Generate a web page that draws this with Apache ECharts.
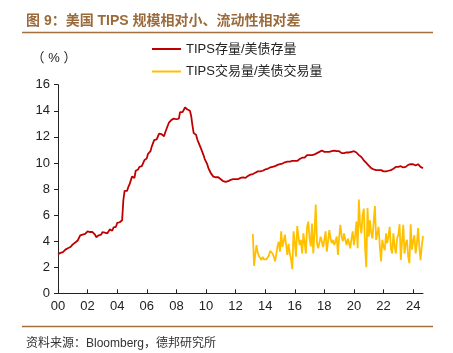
<!DOCTYPE html>
<html>
<head>
<meta charset="utf-8">
<script src="https://cdn.jsdelivr.net/npm/echarts@6/dist/echarts.min.js"></script>
<style>
  html, body { margin: 0; padding: 0; background: #fff; }
  #chart { width: 453px; height: 353px; }
</style>
</head>
<body>
<div id="chart"></div>
<script>
// 月度数据：2000-01 ~ 2024-09
const startYear = 2000
const yTicks = [0, 2, 4, 6, 8, 10, 12, 14, 16]

// TIPS存量/美债存量（%），按年分行
const stockRatio = [
  3.0, 3.05, 3.1, 3.1, 3.15, 3.2, 3.35, 3.45, 3.45, 3.5, 3.55, 3.6,
  3.75, 3.9, 3.9, 3.95, 4.05, 4.15, 4.45, 4.45, 4.5, 4.5, 4.55, 4.6,
  4.75, 4.75, 4.7, 4.75, 4.7, 4.7, 4.5, 4.3, 4.3, 4.45, 4.55, 4.5,
  4.7, 4.65, 4.65, 4.6, 4.6, 4.55, 4.9, 4.85, 4.8, 5.05, 5.0, 5.1,
  5.4, 5.3, 5.45, 5.6, 5.6, 7.15, 7.85, 7.8, 7.85, 8.15, 8.35, 8.4,
  8.95, 8.9, 8.85, 9.4, 9.35, 9.5, 9.7, 9.65, 9.75, 9.75, 10.2, 10.25,
  10.35, 10.7, 10.65, 10.9, 11.25, 11.2, 11.75, 11.7, 11.8, 11.85, 12.25, 12.2,
  12.2, 12.1, 12.05, 12.35, 12.6, 12.6, 13.1, 13.05, 13.3, 13.4, 13.4, 13.35,
  13.35, 13.4, 13.4, 13.9, 13.85, 13.9, 13.95, 14.25, 14.15, 14.1, 14.1, 14.0,
  13.6, 12.9, 12.3, 12.2, 12.15, 11.8, 11.55, 11.45, 11.1, 11.0, 10.6, 10.3,
  10.2, 9.9, 9.6, 9.4, 9.2, 9.05, 8.95, 8.95, 8.9, 8.85, 8.9, 8.8,
  8.75, 8.7, 8.6, 8.55, 8.55, 8.5, 8.6, 8.65, 8.7, 8.7, 8.75, 8.7,
  8.75, 8.8, 8.75, 8.8, 8.85, 8.8, 8.9, 8.75, 8.85, 8.95, 9.0, 9.05,
  9.1, 9.05, 9.15, 9.2, 9.25, 9.3, 9.35, 9.3, 9.35, 9.4, 9.4, 9.45,
  9.5, 9.5, 9.55, 9.6, 9.65, 9.6, 9.7, 9.75, 9.75, 9.8, 9.85, 9.9,
  9.9, 9.95, 9.95, 10.0, 10.05, 10.0, 10.1, 10.15, 10.1, 10.2, 10.15, 10.2,
  10.15, 10.1, 10.15, 10.2, 10.3, 10.35, 10.4, 10.45, 10.4, 10.5, 10.6, 10.55,
  10.6, 10.65, 10.6, 10.7, 10.65, 10.7, 10.75, 10.8, 10.85, 10.9, 10.95, 10.9,
  10.85, 10.9, 10.85, 10.8, 10.85, 10.85, 10.9, 10.9, 10.95, 10.95, 10.9, 10.85,
  10.9, 10.8, 10.75, 10.7, 10.75, 10.8, 10.8, 10.75, 10.8, 10.85, 10.85, 10.9,
  10.9, 10.85, 10.8, 10.7, 10.6, 10.5, 10.45, 10.3, 10.2, 10.1, 10.0, 9.9,
  9.8, 9.65, 9.6, 9.55, 9.5, 9.5, 9.45, 9.5, 9.45, 9.4, 9.45, 9.4,
  9.35, 9.3, 9.35, 9.35, 9.4, 9.35, 9.45, 9.5, 9.55, 9.65, 9.7, 9.65,
  9.7, 9.65, 9.75, 9.7, 9.65, 9.75, 9.7, 9.8, 9.85, 9.8, 9.9, 10.0,
  9.9, 9.85, 9.8, 9.85, 9.9, 9.8, 9.7, 9.65, 9.6
]

// TIPS交易量/美债交易量（%），2013-03 起
const tradeStart = '2013-03'
const tradeRatio = [
  4.55, 2.1, 3.0, 3.7, 3.1, 2.85, 3.0, 2.55, 2.8, 2.6,
  2.45, 2.6, 2.7, 2.9, 3.25, 3.1, 3.05, 2.8, 2.45, 3.0,
  3.6, 3.95, 3.2, 4.75, 3.55, 4.0, 4.5, 3.7, 2.95, 3.8,
  3.05, 2.6, 1.85, 4.75, 3.9, 2.8, 5.15, 4.3, 3.7, 4.1,
  3.05, 4.6, 3.9, 3.05, 5.1, 5.5, 4.2, 3.6, 5.35, 3.05,
  4.6, 6.8, 3.85, 3.45, 3.9, 4.35, 3.95, 3.55, 4.1, 4.75,
  3.2, 4.0, 4.85, 4.2, 3.85, 4.1, 3.7, 4.0, 4.35, 2.95,
  4.3, 5.25, 4.35, 4.0, 4.6, 4.1, 3.7, 4.2, 3.85, 3.45,
  4.2, 4.75, 3.7, 4.4, 5.5, 3.45, 7.2, 5.2, 4.6, 6.0,
  6.5, 3.6, 2.0, 6.55, 4.35, 5.6, 4.6, 4.2, 5.5, 6.7,
  4.1, 4.6, 5.1, 3.6, 2.45, 4.1, 3.6, 3.3, 4.6, 3.85,
  4.4, 5.1, 3.4, 3.05, 4.6, 3.6, 3.05, 4.2, 4.5, 5.3,
  2.55, 4.0, 5.25, 3.05, 3.8, 4.1, 2.8, 2.3, 5.3, 3.35,
  4.0, 4.45, 3.05, 3.8, 5.0, 3.6, 2.55, 3.6, 4.4
]

const months = []
for (let i = 0; i < stockRatio.length; i++) {
  const y = startYear + Math.floor(i / 12)
  const m = (i % 12) + 1
  months.push(y + '-' + (m < 10 ? '0' + m : m))
}
const tradeOffset = months.indexOf(tradeStart)
const tradeSeries = months.map((_, i) =>
  i >= tradeOffset && i - tradeOffset < tradeRatio.length ? tradeRatio[i - tradeOffset] : null)

const FONT = "'Liberation Sans','Noto Sans CJK SC',sans-serif"
const brown = '#a0703f'

const myChart = echarts.init(document.getElementById('chart'), null, { renderer: 'canvas' })
myChart.setOption({
  animation: false,
  textStyle: { fontFamily: FONT },
  title: [
    {
      text: '图 9：美国 TIPS 规模相对小、流动性相对差',
      left: 21,
      top: 9,
      textStyle: { color: '#9b6a3a', fontSize: 14, fontWeight: 'bold', fontFamily: FONT }
    },
    {
      text: '资料来源：Bloomberg，德邦研究所',
      left: 21,
      top: 333,
      textStyle: { color: '#333', fontSize: 12, fontWeight: 'normal', fontFamily: FONT }
    }
  ],
  graphic: [
    { type: 'line', shape: { x1: 22, y1: 32.5, x2: 433, y2: 32.5 }, style: { stroke: brown, lineWidth: 1.5 } },
    { type: 'line', shape: { x1: 22, y1: 326.5, x2: 433, y2: 326.5 }, style: { stroke: brown, lineWidth: 1.5 } }
  ],
  legend: {
    orient: 'vertical',
    left: 147,
    top: 37.5,
    itemWidth: 29,
    itemHeight: 14,
    itemGap: 9.5,
    icon: 'path://M0,6L29,6L29,8L0,8Z',
    textStyle: { fontSize: 13, color: '#222', fontFamily: FONT },
    data: ['TIPS存量/美债存量', 'TIPS交易量/美债交易量']
  },
  grid: {
    left: 58,
    right: 30,
    top: 84.7,
    bottom: 59.7,
    containLabel: false
  },
  xAxis: {
    type: 'category',
    data: months,
    boundaryGap: false,
    axisLine: { lineStyle: { color: '#222', width: 1 } },
    axisTick: {
      inside: true,
      length: 4,
      interval: (i) => i % 24 === 0,
      lineStyle: { color: '#222' }
    },
    axisLabel: {
      interval: (i) => i % 24 === 0,
      formatter: (v) => v.slice(2, 4),
      fontSize: 13,
      color: '#222',
      margin: 7,
      fontFamily: FONT
    },
    splitLine: { show: false }
  },
  yAxis: {
    type: 'value',
    min: yTicks[0],
    max: yTicks[yTicks.length - 1],
    interval: 2,
    name: '（ % ）',
    nameGap: 20,
    nameTextStyle: { fontSize: 13, color: '#222', padding: [0, 8, 0, 0], fontFamily: FONT },
    axisLine: { show: true, lineStyle: { color: '#222', width: 1 } },
    axisTick: { show: true, length: 4, lineStyle: { color: '#222' } },
    axisLabel: { fontSize: 13, color: '#222', margin: 8, fontFamily: FONT },
    splitLine: { show: false }
  },
  series: [
    {
      name: 'TIPS存量/美债存量',
      type: 'line',
      data: stockRatio,
      color: '#c00000',
      showSymbol: false,
      lineStyle: { width: 1.8, color: '#c00000' }
    },
    {
      name: 'TIPS交易量/美债交易量',
      type: 'line',
      data: tradeSeries,
      color: '#ffc000',
      showSymbol: false,
      connectNulls: false,
      lineStyle: { width: 1.8, color: '#ffc000' }
    }
  ]
})
</script>
</body>
</html>
